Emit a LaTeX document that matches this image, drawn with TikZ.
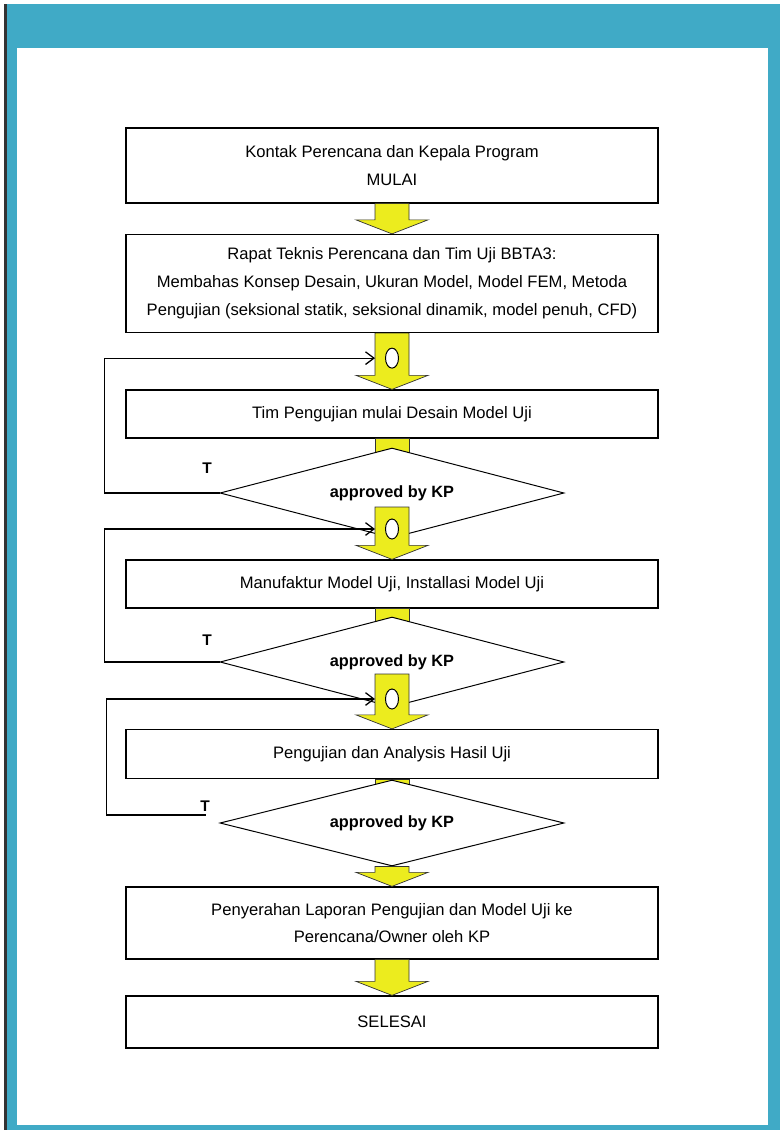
\documentclass[tikz,border=0pt]{standalone}
\usepackage{fontspec}
\setmainfont{Liberation Sans}
\usetikzlibrary{arrows.meta,calc,shapes.geometric}
\definecolor{frameteal}{RGB}{64,170,198}
\definecolor{arrowyellow}{RGB}{236,236,30}
\tikzset{
  stepbox/.style={draw=black, line width=0.9pt, fill=white,
                  minimum width=133mm, inner sep=2pt,
                  align=center, font=\fontsize{11.8}{19.8}\selectfont},
  decision/.style={diamond, draw=black, line width=0.7pt, fill=white,
                   minimum width=86mm, minimum height=22.5mm,
                   shape aspect=3.8, inner sep=0pt,
                   font=\fontsize{11.6}{14}\selectfont\bfseries},
  noflag/.style={font=\fontsize{11}{13}\selectfont\bfseries},
  loopline/.style={black, line width=0.9pt,
                   -{Straight Barb[length=6pt,width=9pt]}},
  yellowarrow/.style={fill=arrowyellow, draw=black!80, line width=0.5pt},
  hole/.style={fill=white, draw=black, line width=0.7pt},
}
% yellow block arrow: shaft starts at #1, head tip at #2
\newcommand{\yarrow}[2]{%
  \draw[yellowarrow] ($(#1)+(-17,0)$) -- ($(#2)+(-17,-14)$)
    -- ($(#2)+(-36,-14)$) -- (#2) -- ($(#2)+(36,-14)$)
    -- ($(#2)+(17,-14)$) -- ($(#1)+(17,0)$) -- cycle;}

\begin{document}
\begin{tikzpicture}[x=0.25mm,y=-0.25mm]
  \useasboundingbox (0,0) rectangle (780,1130);
  \fill[white] (0,0) rectangle (780,1130);

  % frame
  \fill[frameteal] (5,4) rectangle (780,48);
  \fill[frameteal] (7,4) rectangle (17,1130);
  \fill[frameteal] (768,4) rectangle (780,1130);
  \fill[frameteal] (7,1125) rectangle (780,1130);
  \fill[black!80] (4,4) rectangle (7,1130);

  % steps
  \node[stepbox, minimum height=18.75mm] (start) at (392,165.5)
    {Kontak Perencana dan Kepala Program\\MULAI};
  \node[stepbox, minimum height=24.5mm] (meeting) at (392,283.5)
    {Rapat Teknis Perencana dan Tim Uji BBTA3:\\
     Membahas Konsep Desain, Ukuran Model, Model FEM, Metoda\\
     Pengujian (seksional statik, seksional dinamik, model penuh, CFD)};
  \node[stepbox, minimum height=12mm] (design) at (392,414)
    {Tim Pengujian mulai Desain Model Uji};
  \node[stepbox, minimum height=12mm] (manuf) at (392,584)
    {Manufaktur Model Uji, Installasi Model Uji};
  \node[stepbox, minimum height=12.25mm] (testing) at (392,754)
    {Pengujian dan Analysis Hasil Uji};
  \node[stepbox, minimum height=18mm] (report) at (392,923)
    {Penyerahan Laporan Pengujian dan Model Uji ke\\Perencana/Owner oleh KP};
  \node[stepbox, minimum height=13mm] (finish) at (392,1022)
    {SELESAI};

  % arrows between plain steps
  \yarrow{start.south}{meeting.north}
  \yarrow{meeting.south}{design.north}
  \coordinate (c1) at ($(meeting.south)+(0,25)$);
  \draw[hole] (c1) ellipse [x radius=6.5, y radius=10];

  % stubs behind the decisions
  \draw[yellowarrow] ($(design.south)+(-17,0)$) rectangle ++(34,22);
  \draw[yellowarrow] ($(manuf.south)+(-17,0)$) rectangle ++(34,22);
  \draw[yellowarrow] ($(testing.south)+(-17,0)$) rectangle ++(34,22);

  % decisions
  \node[decision] (check1) at (392,493) {approved by KP};
  \node[decision] (check2) at (392,662) {approved by KP};
  \node[decision, minimum height=21.5mm] (check3) at (392,823) {approved by KP};

  % arrows out of the decisions
  \coordinate (o1) at ($(check1.center)+(0,14)$);
  \coordinate (o2) at ($(check2.center)+(0,12)$);
  \yarrow{o1}{manuf.north}
  \yarrow{o2}{testing.north}
  \yarrow{check3.south}{report.north}
  \yarrow{report.south}{finish.north}
  \coordinate (c2) at ($(check1.center)+(0,36)$);
  \coordinate (c3) at ($(check2.center)+(0,37)$);
  \draw[hole] (c2) ellipse [x radius=6.5, y radius=10];
  \draw[hole] (c3) ellipse [x radius=6.5, y radius=10];

  % rejection loops
  \node[noflag] (t1) at (207,468) {T};
  \node[noflag] (t2) at (207,640) {T};
  \node[noflag] (t3) at (205,806) {T};
  \coordinate (e3) at ($(check3.west)+(-14,-8)$);
  \draw[loopline] (check1.west) -- ++(-115,0) |- ($(c1)+(-17,0)$);
  \draw[loopline] (check2.west) -- ++(-115,0) |- ($(c2)+(-17,0)$);
  \draw[loopline] (e3) -- ++(-99,0) |- ($(c3)+(-17,0)$);
\end{tikzpicture}
\end{document}
